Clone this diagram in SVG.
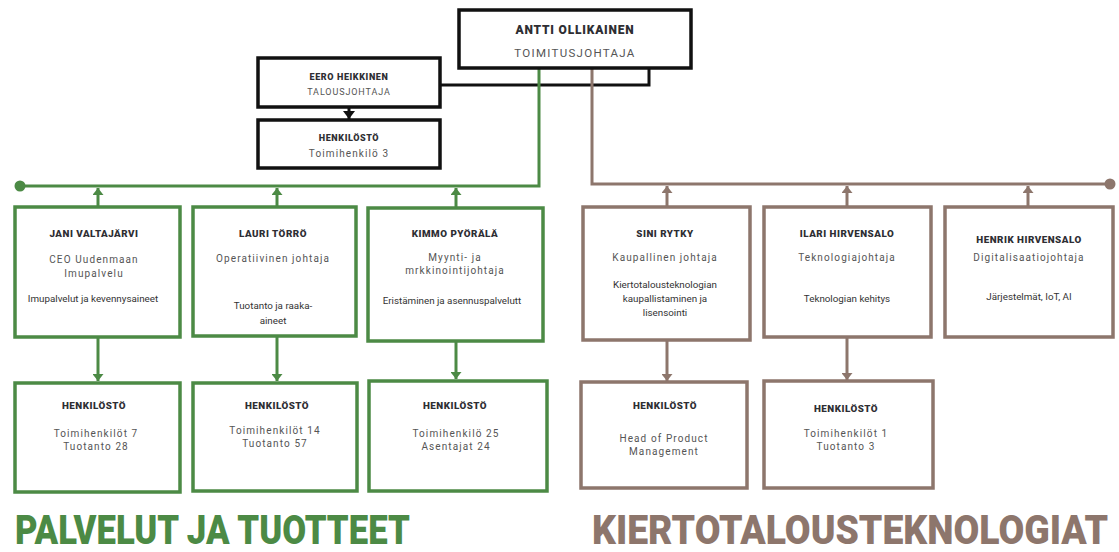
<svg xmlns="http://www.w3.org/2000/svg" width="1119" height="552" viewBox="0 0 1119 552">
<defs>
<style>
.bg{fill:#ffffff}
.box{fill:#ffffff;stroke-width:3.5}
.g{stroke:#4c8a45}
.b{stroke:#8d766c}
.k{stroke:#111111}
.ln{fill:none;stroke-width:3}
text{font-family:Roboto,"Liberation Sans",sans-serif;text-anchor:middle}
.nm{font-size:9.8px;font-weight:900;fill:#2e2e33;letter-spacing:0.5px}
.sub{font-size:10px;fill:#555555;letter-spacing:1.1px}
.ds{font-size:9.8px;fill:#333333}
.title{font-size:41px;font-weight:900;text-anchor:start}
</style>
<marker id="ag" viewBox="0 0 7 11" refX="7" refY="5.5" markerWidth="7" markerHeight="11" markerUnits="userSpaceOnUse" orient="auto"><path d="M0,0 L7,5.5 L0,11 z" fill="#4c8a45"/></marker>
<marker id="ab" viewBox="0 0 7 11" refX="7" refY="5.5" markerWidth="7" markerHeight="11" markerUnits="userSpaceOnUse" orient="auto"><path d="M0,0 L7,5.5 L0,11 z" fill="#8d766c"/></marker>
<marker id="ak" viewBox="0 0 8 12" refX="8" refY="6" markerWidth="8" markerHeight="12" markerUnits="userSpaceOnUse" orient="auto"><path d="M0,0 L8,6 L0,12 z" fill="#111111"/></marker>
</defs>
<rect class="bg" x="0" y="0" width="1119" height="552"/>

<g id="connectors">
<path class="ln k" d="M649,68 V85 H440"/>
<path class="ln k" d="M349,107 V119" marker-end="url(#ak)"/>
<path class="ln g" d="M539,68 V186 H20"/>
<circle cx="20" cy="186" r="5.5" fill="#4c8a45"/>
<path class="ln g" d="M98,207 V188" marker-end="url(#ag)"/>
<path class="ln g" d="M277,207 V188" marker-end="url(#ag)"/>
<path class="ln g" d="M456,207 V188" marker-end="url(#ag)"/>
<path class="ln g" d="M98,337 V381" marker-end="url(#ag)"/>
<path class="ln g" d="M277,336 V381" marker-end="url(#ag)"/>
<path class="ln g" d="M456,341 V379" marker-end="url(#ag)"/>
<path class="ln b" d="M592,68 V184 H1110"/>
<circle cx="1110" cy="184" r="5.5" fill="#8d766c"/>
<path class="ln b" d="M667,207 V186" marker-end="url(#ab)"/>
<path class="ln b" d="M847,207 V186" marker-end="url(#ab)"/>
<path class="ln b" d="M1028,207 V186" marker-end="url(#ab)"/>
<path class="ln b" d="M667,340 V381" marker-end="url(#ab)"/>
<path class="ln b" d="M847,337 V380" marker-end="url(#ab)"/>
</g>

<g id="ceo">
<rect class="box k" x="459" y="10" width="232" height="58"/>
<text x="575" y="34" style="font-size:12px;font-weight:900;fill:#2e2e33;letter-spacing:0.8px">ANTTI OLLIKAINEN</text>
<text x="575" y="57" style="font-size:11.5px;fill:#555555;letter-spacing:1.3px">TOIMITUSJOHTAJA</text>
</g>

<g id="eero">
<rect class="box k" x="258" y="58" width="182" height="49"/>
<text x="349" y="80" style="font-size:9px;font-weight:900;fill:#2e2e33;letter-spacing:0.6px">EERO HEIKKINEN</text>
<text x="349" y="95" style="font-size:9px;fill:#555555;letter-spacing:0.9px">TALOUSJOHTAJA</text>
</g>

<g id="eero-staff">
<rect class="box k" x="258" y="120" width="182" height="48"/>
<text x="349" y="141" style="font-size:9px;font-weight:900;fill:#2e2e33;letter-spacing:0.6px">HENKILÖSTÖ</text>
<text x="349" y="157" class="sub">Toimihenkilö 3</text>
</g>

<g id="jani">
<rect class="box g" x="15" y="207" width="165" height="130"/>
<text x="94" y="237" class="nm">JANI VALTAJÄRVI</text>
<text x="94" y="263" class="sub">CEO Uudenmaan</text>
<text x="94" y="277" class="sub">Imupalvelu</text>
<text x="93" y="302" class="ds">Imupalvelut ja kevennysaineet</text>
</g>

<g id="lauri">
<rect class="box g" x="193" y="207" width="163" height="129"/>
<text x="273" y="237" class="nm">LAURI TÖRRÖ</text>
<text x="273" y="262" class="sub">Operatiivinen johtaja</text>
<text x="273" y="309" class="ds">Tuotanto ja raaka-</text>
<text x="273" y="324" class="ds">aineet</text>
</g>

<g id="kimmo">
<rect class="box g" x="368" y="208" width="175" height="133"/>
<text x="455" y="237" class="nm">KIMMO PYÖRÄLÄ</text>
<text x="455" y="261" class="sub">Myynti- ja</text>
<text x="455" y="274" class="sub">mrkkinointijohtaja</text>
<text x="452" y="304" class="ds">Eristäminen ja asennuspalvelutt</text>
</g>

<g id="sini">
<rect class="box b" x="583" y="207" width="167" height="133"/>
<text x="665" y="237" class="nm">SINI RYTKY</text>
<text x="665" y="261" class="sub">Kaupallinen johtaja</text>
<text x="665" y="288" class="ds">Kiertotalousteknologian</text>
<text x="665" y="302" class="ds">kaupallistaminen ja</text>
<text x="665" y="316" class="ds">lisensointi</text>
</g>

<g id="ilari">
<rect class="box b" x="764" y="207" width="167" height="130"/>
<text x="847" y="237" class="nm">ILARI HIRVENSALO</text>
<text x="847" y="261" class="sub">Teknologiajohtaja</text>
<text x="847" y="302" class="ds">Teknologian kehitys</text>
</g>

<g id="henrik">
<rect class="box b" x="945" y="207" width="168" height="130"/>
<text x="1029" y="243" class="nm">HENRIK HIRVENSALO</text>
<text x="1029" y="261" class="sub">Digitalisaatiojohtaja</text>
<text x="1029" y="300" class="ds">Järjestelmät, IoT, AI</text>
</g>

<g id="jani-staff">
<rect class="box g" x="15" y="383" width="165" height="109"/>
<text x="94" y="409" class="nm">HENKILÖSTÖ</text>
<text x="96" y="437" class="sub">Toimihenkilöt 7</text>
<text x="96" y="450" class="sub">Tuotanto 28</text>
</g>

<g id="lauri-staff">
<rect class="box g" x="193" y="383" width="164" height="108"/>
<text x="277" y="409" class="nm">HENKILÖSTÖ</text>
<text x="275" y="434" class="sub">Toimihenkilöt 14</text>
<text x="275" y="447" class="sub">Tuotanto 57</text>
</g>

<g id="kimmo-staff">
<rect class="box g" x="369" y="381" width="178" height="110"/>
<text x="455" y="409" class="nm">HENKILÖSTÖ</text>
<text x="456" y="437" class="sub">Toimihenkilö 25</text>
<text x="456" y="450" class="sub">Asentajat 24</text>
</g>

<g id="sini-staff">
<rect class="box b" x="581" y="382" width="166" height="106"/>
<text x="665" y="409" class="nm">HENKILÖSTÖ</text>
<text x="664" y="442" class="sub">Head of Product</text>
<text x="664" y="455" class="sub">Management</text>
</g>

<g id="ilari-staff">
<rect class="box b" x="764" y="381" width="169" height="107"/>
<text x="846" y="412" class="nm">HENKILÖSTÖ</text>
<text x="846" y="437" class="sub">Toimihenkilöt 1</text>
<text x="846" y="450" class="sub">Tuotanto 3</text>
</g>

<g id="titles">
<text transform="translate(15,544) scale(0.826,1)" x="0" y="0" class="title" fill="#4c8a45" textLength="478" lengthAdjust="spacingAndGlyphs">PALVELUT JA TUOTTEET</text>
<text transform="translate(592,544) scale(0.893,1)" x="0" y="0" class="title" fill="#8d766c" textLength="578" lengthAdjust="spacingAndGlyphs">KIERTOTALOUSTEKNOLOGIAT</text>
</g>
</svg>
